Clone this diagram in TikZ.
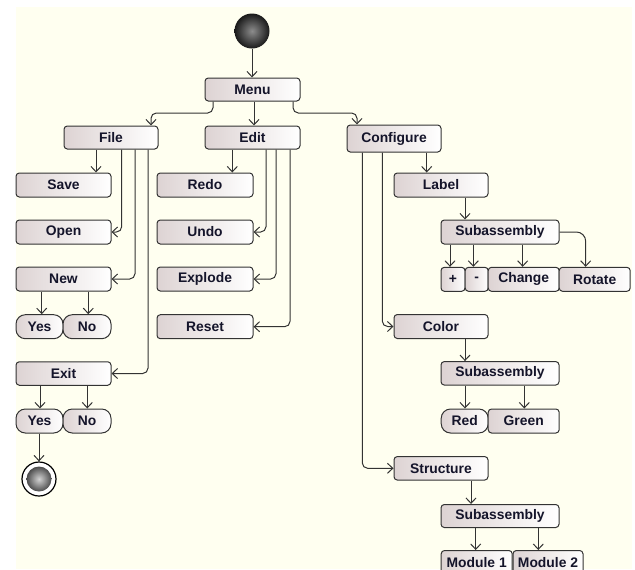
\documentclass[tikz,border=0pt]{standalone}
\usepackage{fontspec}
\setmainfont{Liberation Sans}
\usetikzlibrary{arrows.meta,calc}
\definecolor{bgc}{HTML}{FFFFF0}
\definecolor{boxl}{HTML}{DDD3D3}
\definecolor{linec}{HTML}{333333}
\definecolor{txt}{HTML}{14142A}
\newcommand\bxfont{\fontsize{10.4pt}{12pt}\selectfont\bfseries}
\tikzset{
  act/.style={draw=linec, line width=0.75pt, rounded corners=2.5pt, left color=boxl, right color=white,
    font=\bxfont, text=txt, inner sep=0pt, minimum width=95*0.75pt, minimum height=24*0.75pt},
  wd/.style={minimum width=#1*0.75pt},
  ht/.style={minimum height=#1*0.75pt},
  dec/.style={act, rounded corners=7pt},
  conn/.style={draw=linec, line width=0.75pt, rounded corners=4pt, -{Straight Barb[length=4pt,width=7.5pt]}}
}
\begin{document}
\begin{tikzpicture}[x=0.75pt,y=-0.75pt]
\useasboundingbox (0,0) rectangle (635,569);
\clip (0,0) rectangle (635,569);
\fill[bgc] (16,7) rectangle (632,569);

% start
\node[circle, inner sep=0pt, minimum size=35*0.75pt, inner color=black!45, outer color=black!90] (start) at (252,31) {};

% top level
\node[act, ht=23] (menu) at (252.5,89.5) {Menu};
\node[act, wd=94, ht=23] (file) at (111,137.5) {File};
\node[act, ht=23] (edit) at (252.5,137.5) {Edit};
\node[act, wd=94, ht=27] (conf) at (394,138.5) {Configure};

% file column
\node[act] (save) at (63.5,185) {Save};
\node[act] (open) at (63.5,232) {Open};
\node[act] (new) at (63.5,279) {New};
\node[dec, wd=47] (yesA) at (39.5,326.7) {Yes};
\node[dec, wd=48] (noA) at (87,326.7) {No};
\node[act, ht=23.5] (exit) at (63.5,373.5) {Exit};
\node[dec, wd=47] (yesB) at (39.5,421) {Yes};
\node[dec, wd=48] (noB) at (87,421) {No};
\node[circle, draw=black, line width=0.9pt, fill=white, inner sep=0pt, minimum size=34*0.75pt] (final) at (39,479) {};
\node[circle, inner sep=0pt, minimum size=25*0.75pt, inner color=gray!35, outer color=gray!60!black] (finalin) at (final.center) {};

% edit column
\node[act, wd=96] (redo) at (205,185) {Redo};
\node[act, wd=96] (undo) at (205,232) {Undo};
\node[act, wd=96] (explode) at (205,279) {Explode};
\node[act, wd=96] (reset) at (205,326.7) {Reset};

% configure column
\node[act, wd=94] (label) at (441,185) {Label};
\node[act, wd=118] (subA) at (500,232) {Subassembly};
\node[act, wd=24] (plus) at (453,279.3) {+};
\node[act, wd=23] (minus) at (476.7,279.3) {-};
\node[act, wd=71] (change) at (523.7,279.3) {Change};
\node[act, wd=71] (rotate) at (594.7,279.3) {Rotate};
\node[act, wd=94] (color) at (441,326.5) {Color};
\node[act, wd=118, ht=23.5] (subB) at (500,373.3) {Subassembly};
\node[dec, wd=47] (red) at (464.7,421) {Red};
\node[act, wd=71] (green) at (523.7,421) {Green};
\node[act, wd=94, ht=23.5] (struct) at (441,468.3) {Structure};
\node[act, wd=118, ht=23] (subC) at (500,516) {Subassembly};
\node[act, wd=71] (modA) at (476.7,562.5) {Module 1};
\node[act, wd=70] (modB) at (548,562.5) {Module 2};

% connectors
\draw[conn] (start.south) -- (menu.north -| start.south);
\draw[conn] (menu.south -| 213,0) -- (213,113) -| (file.north -| 151,0);
\draw[conn] (menu.south -| 254,0) -- (edit.north -| 254,0);
\draw[conn] (menu.south -| 293,0) -- (293,113) -| (conf.north -| 357,0);

\draw[conn] (file.south -| 96,0) -- (save.north -| 96,0);
\draw[conn] (file.south -| 121.7,0) |- (open.east);
\draw[conn] (file.south -| 135,0) |- (new.east);
\draw[conn] (file.south -| 148,0) |- (exit.east);
\draw[conn] (new.south -| 41.7,0) -- (yesA.north -| 41.7,0);
\draw[conn] (new.south -| 88.3,0) -- (noA.north -| 88.3,0);
\draw[conn] (exit.south -| 40,0) -- (yesB.north -| 40,0);
\draw[conn] (exit.south -| 87.3,0) -- (noB.north -| 87.3,0);
\draw[conn] (yesB.south -| final.north) -- (final.north);

\draw[conn] (edit.south -| 232.3,0) -- (redo.north -| 232.3,0);
\draw[conn] (edit.south -| 266,0) |- (undo.east);
\draw[conn] (edit.south -| 276,0) |- (explode.east);
\draw[conn] (edit.south -| 290,0) |- (reset.east);

\draw[conn] (conf.south -| 426.7,0) -- (label.north -| 426.7,0);
\draw[conn] (conf.south -| 382.3,0) |- (color.west);
\draw[conn] (conf.south -| 362.3,0) |- (struct.west);

\draw[conn] (label.south -| 465,0) -- (subA.north -| 465,0);
\draw[conn] (subA.south -| 450,0) -- (plus.north -| 450,0);
\draw[conn] (subA.south -| 473.3,0) -- (minus.north -| 473.3,0);
\draw[conn] (subA.south -| 522.7,0) -- (change.north -| 522.7,0);
\draw[conn, rounded corners=7pt] (subA.east) -| (rotate.north -| 585.7,0);

\draw[conn] (color.south -| 465,0) -- (subB.north -| 465,0);
\draw[conn] (subB.south -| 465,0) -- (red.north -| 465,0);
\draw[conn] (subB.south -| 524.3,0) -- (green.north -| 524.3,0);

\draw[conn] (struct.south -| 471,0) -- (subC.north -| 471,0);
\draw[conn] (subC.south -| 475.7,0) -- (modA.north -| 475.7,0);
\draw[conn] (subC.south -| 538.3,0) -- (modB.north -| 538.3,0);
\end{tikzpicture}
\end{document}
